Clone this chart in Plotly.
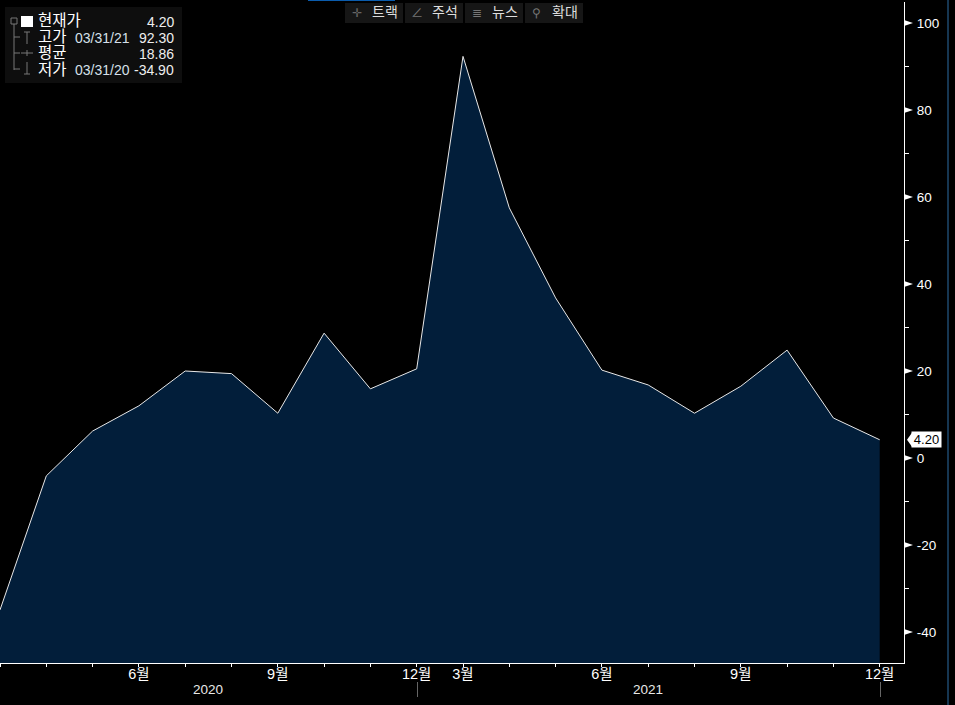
import plotly.graph_objects as go

periods = ["2020-03","2020-04","2020-05","2020-06","2020-07","2020-08","2020-09","2020-10","2020-11","2020-12",
           "2021-03","2021-04","2021-05","2021-06","2021-07","2021-08","2021-09","2021-10","2021-11","2021-12"]
values = [-34.9,-4.1,6.2,12.0,20.0,19.4,10.3,28.7,15.9,20.5,
          92.3,57.5,36.8,20.2,16.8,10.3,16.5,24.8,9.2,4.2]
x_tick_labels = ["","","","6월","","","9월","","","12월","3월","","","6월","","","9월","","","12월"]
y_ticks = [-40,-30,-20,-10,0,10,20,30,40,50,60,70,80,90,100]
y_labels = ["-40","","-20","","0","","20","","40","","60","","80","","100"]
y_major = [-40,-20,0,20,40,60,80,100]
y_min, y_max = -47.1, 104.8
floor = [y_min] * len(values)

KR = "Liberation Sans, Noto Sans CJK KR"
WHITE = "#ffffff"
fig = go.Figure()
fig.add_trace(go.Scatter(x=periods, y=floor, mode="lines", line=dict(width=0), hoverinfo="skip", showlegend=False))
fig.add_trace(go.Scatter(x=periods, y=values, mode="lines", fill="tonexty", fillcolor="#021e3a",
                         line=dict(color="#e8e8e8", width=1), showlegend=False))

anns = []
def label(x, y, text, size=14, color=WHITE, anchor="left"):
    anns.append(dict(xref="paper", yref="paper", x=x/904, y=(663-y)/661, text=text, showarrow=False,
                     xanchor=anchor, yanchor="middle", font=dict(size=size, color=color, family=KR),
                     align=anchor, borderpad=0))

shapes = []
def rect(x0, y0, x1, y1, fill, line=None, layer="above"):
    shapes.append(dict(type="rect", xref="paper", yref="paper", x0=x0/904, x1=x1/904, y0=(663-y0)/661, y1=(663-y1)/661,
                       fillcolor=fill, line=dict(width=0 if line is None else 1, color=line or fill), layer=layer))
def seg(x0, y0, x1, y1, color="#777777", w=1):
    shapes.append(dict(type="line", xref="paper", yref="paper", x0=x0/904, x1=x1/904, y0=(663-y0)/661, y1=(663-y1)/661,
                       line=dict(color=color, width=w), layer="above"))

# legend panel
rect(5, 7, 182, 83, "#0e0e0e")
rect(11, 18, 17, 24, "#0e0e0e", "#777777")
rect(21, 16, 33, 27, WHITE)
seg(14, 24, 14, 70); seg(14, 37, 20, 37); seg(14, 53, 20, 53); seg(14, 69, 20, 69)
seg(27, 32, 27, 44); seg(24, 32, 30, 32)
seg(21, 53, 33, 53); seg(27, 50, 27, 56)
seg(27, 62, 27, 74); seg(24, 74, 30, 74)
label(37, 21, "현재가", 15.5); label(37, 37, "고가", 15.5); label(37, 53, "평균", 15.5); label(37, 69, "저가", 15.5)
label(74, 38, "03/31/21", 14, "#d5e0ea"); label(74, 70, "03/31/20", 14, "#d5e0ea")
for yy, t in [(22, "4.20"), (38, "92.30"), (54, "18.86"), (70, "-34.90")]:
    label(175, yy, t, 14, "#eeeeee", "right")

# toolbar
rect(345, 3, 403, 23, "#161616"); rect(405, 3, 463, 23, "#161616")
rect(465, 3, 523, 23, "#161616"); rect(525, 3, 583, 23, "#161616")
label(371, 12, "트랙", 14, "#dddddd"); label(431, 12, "주석", 14, "#dddddd")
label(491, 12, "뉴스", 14, "#dddddd"); label(551, 12, "확대", 14, "#dddddd")
label(357, 13, "✛", 12, "#666666", "center"); label(417, 13, "∠", 12, "#777777", "center")
label(477, 13, "≣", 12, "#777777", "center"); label(536, 13, "⚲", 12, "#777777", "center")

# top blue strip, right edge
rect(308, -2, 395, 1, "#0b5cad")
seg(948, -2, 948, 707, "#2d6da3", 1)

# bottom: year labels and separators
seg(417.5, 682, 417.5, 697, "#666666"); seg(880.5, 682, 880.5, 697, "#666666")
label(208, 689, "2020", 13.5, "#e8e8e8", "center"); label(648, 689, "2021", 13.5, "#e8e8e8", "center")

# major y tick arrows
for v in y_major:
    shapes.append(dict(type="path", xref="paper", yref="y", xsizemode="pixel", ysizemode="pixel",
                       xanchor=1.0, yanchor=v, path="M 0 -3 L 9 0 L 0 3 Z", fillcolor=WHITE, line=dict(width=0), layer="above"))

# current value flag
current = values[-1]
anns.append(dict(xref="paper", yref="y", x=911/904, y=current, text="4.20", showarrow=False, xanchor="left",
                 yanchor="middle", bgcolor=WHITE, font=dict(size=13, color="#000000", family=KR),
                 borderpad=0, width=29, height=15))
shapes.append(dict(type="path", xref="paper", yref="y", xsizemode="pixel", ysizemode="pixel",
                   xanchor=1.0, yanchor=current, path="M 3 0 L 8 -7 L 8 7 Z", fillcolor=WHITE, line=dict(width=0), layer="above"))

fig.update_layout(
    width=955, height=705, autosize=False,
    margin=dict(l=0, r=51, t=2, b=42),
    paper_bgcolor="#000000", plot_bgcolor="#000000", showlegend=False,
    hovermode=False, annotations=anns, shapes=shapes,
    font=dict(family=KR, color=WHITE),
    xaxis=dict(type="category", categoryorder="array", categoryarray=periods, range=[0, 19.525],
               tickmode="array", tickvals=periods, ticktext=x_tick_labels, ticks="outside", ticklen=3,
               tickcolor=WHITE, tickangle=0, showgrid=False, zeroline=False, showline=True, linecolor=WHITE, linewidth=1,
               ticklabelstandoff=-5, tickfont=dict(size=14.5, color=WHITE, family=KR)),
    yaxis=dict(side="right", range=[y_min, y_max], tickmode="array", tickvals=y_ticks, ticktext=y_labels,
               ticks="outside", ticklen=4, tickcolor=WHITE, showgrid=False, zeroline=False, showline=True,
               linecolor=WHITE, linewidth=1, ticklabelstandoff=5, tickfont=dict(size=13.5, color=WHITE, family=KR)),
)
fig.write_html("out.html", config={"displayModeBar": False},
               post_script="document.body.style.margin='0';document.body.style.background='#000';document.body.style.overflow='hidden';")
